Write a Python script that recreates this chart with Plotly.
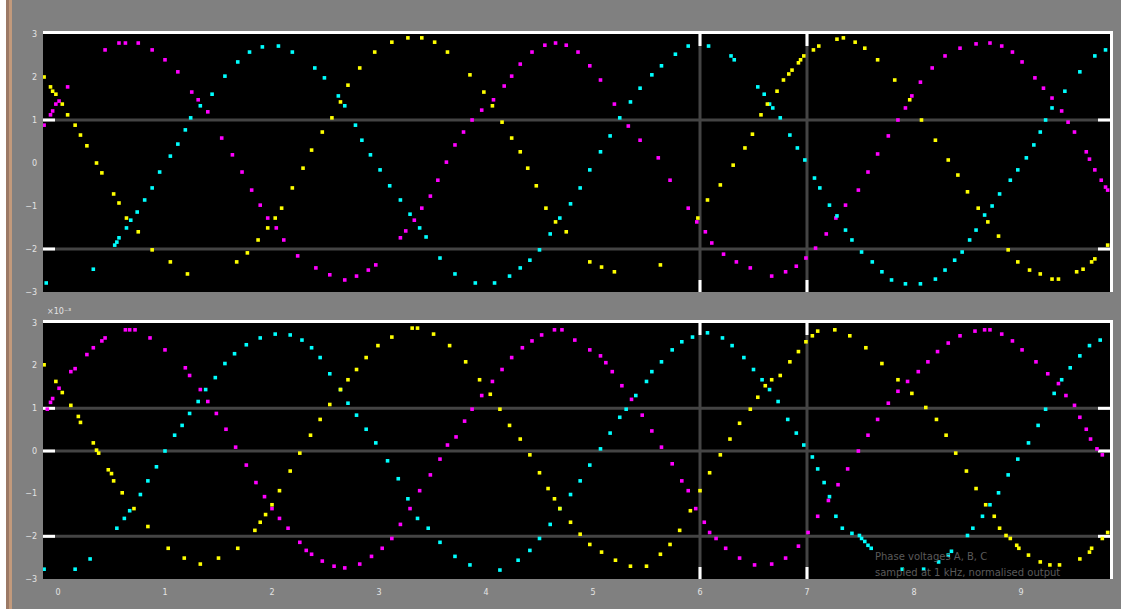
import plotly.graph_objects as go

# ---------------- data (x in tick units, y in axis units) ----------------
top_yellow_x = [-0.13,-0.07,-0.05,-0.02,0.04,0.09,0.16,0.21,0.27,0.36,0.41,0.52,0.57,0.64,0.75,0.88,1.05,1.21,
                1.67,1.77,1.87,1.96,2.03,2.09,2.19,2.29,2.37,2.47,2.56,2.64,2.71,2.82,2.96,3.12,3.27,3.40,3.52,3.64,
                3.85,3.98,4.06,4.15,4.24,4.32,4.39,4.47,4.56,4.65,4.75,4.97,5.08,5.20,5.63,
                5.98,6.07,6.19,6.31,6.42,6.49,6.57,6.63,6.72,6.78,6.83,6.86,6.92,6.94,6.97,7.06,7.11,7.28,7.34,
                7.45,7.54,7.66,7.82,7.96,8.07,8.20,8.32,8.41,8.50,8.60,8.69,8.79,8.88,8.97,9.08,9.18,9.29,9.35,
                9.52,9.58,9.66,9.69,9.81]
top_yellow_y = [2.00,1.77,1.67,1.60,1.37,1.12,0.88,0.65,0.40,0.00,-0.23,-0.72,-0.93,-1.28,-1.60,-2.02,-2.30,-2.58,
                -2.30,-2.09,-1.79,-1.51,-1.28,-1.05,-0.58,-0.12,0.30,0.72,1.05,1.42,1.81,2.21,2.58,2.81,2.91,2.91,2.81,2.58,
                2.05,1.65,1.33,0.95,0.58,0.26,-0.12,-0.53,-1.05,-1.37,-1.60,-2.30,-2.42,-2.53,-2.37,
                -1.28,-0.86,-0.51,-0.05,0.35,0.67,1.12,1.37,1.67,1.93,2.07,2.16,2.33,2.40,2.49,2.63,2.72,2.88,2.91,
                2.81,2.67,2.40,1.93,1.47,1.00,0.53,0.07,-0.28,-0.67,-1.05,-1.37,-1.70,-2.02,-2.30,-2.49,-2.58,-2.70,-2.70,
                -2.53,-2.47,-2.30,-2.23,-1.91]

top_magenta_x = [-0.13,-0.07,-0.05,-0.02,0.01,0.09,0.44,0.57,0.63,0.75,0.88,1.00,1.12,1.25,1.31,1.40,1.53,1.63,1.72,
                 1.81,1.89,1.96,2.04,2.11,2.24,2.41,2.54,2.68,2.79,2.90,2.97,3.20,3.25,3.33,3.40,3.48,3.55,3.63,3.71,
                 3.79,3.87,3.96,4.07,4.17,4.24,4.32,4.43,4.55,4.65,4.75,4.86,4.97,5.07,5.20,5.33,5.44,5.61,5.72,5.89,
                 5.97,6.05,6.11,6.22,6.34,6.47,6.67,6.80,6.90,6.99,7.08,7.18,7.27,7.36,7.48,7.57,7.66,7.76,7.85,7.92,
                 7.98,8.06,8.17,8.29,8.43,8.58,8.71,8.82,8.92,9.01,9.13,9.21,9.29,9.38,9.44,9.50,9.61,9.64,9.69,9.75,
                 9.79,9.81]
top_magenta_y = [0.88,1.12,1.21,1.37,1.44,1.77,2.63,2.79,2.79,2.79,2.63,2.40,2.12,1.65,1.47,1.19,0.58,0.19,-0.21,
                 -0.63,-0.98,-1.28,-1.51,-1.79,-2.16,-2.44,-2.60,-2.72,-2.63,-2.49,-2.37,-1.74,-1.58,-1.33,-1.05,-0.77,-0.40,0.02,0.42,
                 0.72,1.00,1.23,1.47,1.79,2.02,2.30,2.58,2.74,2.79,2.74,2.58,2.26,1.93,1.37,0.86,0.53,0.12,-0.40,-1.05,
                 -1.37,-1.60,-1.86,-2.12,-2.30,-2.44,-2.63,-2.53,-2.40,-2.21,-1.98,-1.65,-1.28,-0.98,-0.63,-0.21,0.21,0.63,1.00,1.28,
                 1.56,1.88,2.21,2.49,2.67,2.77,2.79,2.72,2.58,2.35,1.98,1.74,1.51,1.21,0.95,0.72,0.26,0.09,-0.16,-0.40,
                 -0.56,-0.63]

top_cyan_x = [-0.11,0.33,0.53,0.55,0.57,0.64,0.68,0.74,0.81,0.88,0.95,1.05,1.12,1.19,1.24,1.33,1.44,1.56,1.68,1.79,
              1.91,2.06,2.19,2.40,2.49,2.62,2.68,2.78,2.84,2.92,3.01,3.10,3.20,3.29,3.38,3.44,3.57,3.71,3.90,4.08,
              4.22,4.32,4.41,4.50,4.60,4.69,4.79,4.88,4.97,5.07,5.16,5.25,5.35,5.44,5.55,5.64,5.77,5.89,6.08,6.29,
              6.32,6.54,6.60,6.65,6.68,6.75,6.84,6.91,6.98,7.07,7.12,7.21,7.28,7.36,7.42,7.51,7.61,7.70,7.79,7.92,
              8.06,8.20,8.29,8.38,8.45,8.52,8.58,8.66,8.73,8.80,8.90,8.97,9.05,9.12,9.18,9.23,9.29,9.41,9.55,9.69,9.79]
top_cyan_y = [-2.79,-2.47,-1.91,-1.84,-1.74,-1.51,-1.33,-1.14,-0.86,-0.58,-0.21,0.16,0.44,0.77,1.05,1.33,1.60,2.02,2.35,2.58,
              2.70,2.72,2.58,2.21,1.98,1.56,1.33,0.88,0.53,0.19,-0.16,-0.53,-0.86,-1.19,-1.51,-1.72,-2.21,-2.58,-2.79,-2.79,
              -2.63,-2.44,-2.26,-2.02,-1.65,-1.28,-0.95,-0.58,-0.16,0.26,0.63,1.05,1.42,1.74,2.05,2.26,2.53,2.72,2.72,2.49,
              2.40,1.77,1.60,1.37,1.28,1.05,0.65,0.35,0.07,-0.35,-0.58,-0.98,-1.23,-1.56,-1.79,-2.07,-2.30,-2.53,-2.72,-2.81,
              -2.81,-2.70,-2.49,-2.26,-2.07,-1.79,-1.56,-1.21,-1.00,-0.72,-0.40,-0.16,0.12,0.42,0.72,1.00,1.28,1.67,2.12,2.49,2.63]

bot_magenta_x = [-0.10,-0.07,-0.05,0.01,0.12,0.16,0.27,0.33,0.41,0.44,0.63,0.67,0.72,0.86,1.00,1.19,1.23,1.33,1.40,
                 1.48,1.57,1.66,1.76,1.85,1.93,2.00,2.07,2.15,2.26,2.32,2.37,2.47,2.58,2.68,2.82,2.93,3.03,3.12,3.20,
                 3.29,3.38,3.48,3.57,3.64,3.72,3.80,3.87,3.96,4.06,4.15,4.24,4.34,4.43,4.52,4.64,4.71,4.83,4.97,5.07,
                 5.12,5.18,5.27,5.36,5.46,5.55,5.64,5.74,5.83,5.89,5.96,6.04,6.09,6.15,6.24,6.37,6.51,6.67,6.80,6.92,
                 7.01,7.10,7.20,7.29,7.38,7.48,7.57,7.66,7.76,7.85,7.94,8.04,8.13,8.22,8.32,8.43,8.57,8.66,8.71,8.82,
                 8.92,9.01,9.14,9.25,9.35,9.42,9.50,9.55,9.61,9.65,9.71,9.76]
bot_magenta_y = [0.98,1.14,1.23,1.47,1.86,1.93,2.26,2.42,2.58,2.65,2.84,2.84,2.84,2.65,2.37,1.95,1.77,1.44,1.16,
                 0.88,0.51,0.09,-0.33,-0.74,-1.07,-1.35,-1.58,-1.81,-2.14,-2.33,-2.42,-2.58,-2.70,-2.74,-2.65,-2.47,-2.28,-2.05,-1.72,
                 -1.35,-0.93,-0.56,-0.19,0.14,0.33,0.70,0.98,1.30,1.63,1.91,2.19,2.42,2.58,2.72,2.84,2.84,2.60,2.37,2.23,
                 2.07,1.86,1.53,1.21,0.84,0.47,0.09,-0.30,-0.70,-0.93,-1.35,-1.67,-1.91,-2.05,-2.28,-2.51,-2.67,-2.65,-2.51,-2.23,
                 -1.91,-1.53,-1.16,-0.79,-0.42,0.00,0.37,0.74,1.12,1.40,1.63,1.86,2.09,2.33,2.53,2.70,2.81,2.84,2.84,2.74,
                 2.58,2.37,2.09,1.81,1.58,1.30,1.07,0.79,0.51,0.28,0.05,-0.09]

bot_yellow_x = [-0.13,-0.02,0.04,0.12,0.19,0.21,0.33,0.36,0.38,0.47,0.50,0.52,0.60,0.71,0.84,1.03,1.18,1.33,1.50,
                1.68,1.84,1.89,1.94,2.00,2.07,2.17,2.26,2.36,2.45,2.54,2.64,2.71,2.79,2.88,2.99,3.12,3.31,3.36,3.51,
                3.66,3.81,3.94,4.04,4.13,4.22,4.32,4.41,4.50,4.58,4.64,4.69,4.79,4.88,4.97,5.08,5.21,5.35,5.50,5.63,
                5.72,5.81,5.91,6.00,6.09,6.19,6.28,6.37,6.47,6.54,6.61,6.67,6.75,6.84,6.92,6.99,7.05,7.10,7.26,7.40,
                7.55,7.70,7.85,7.98,8.11,8.21,8.30,8.39,8.49,8.58,8.67,8.75,8.80,8.86,8.90,8.96,8.98,9.07,9.18,9.27,
                9.36,9.55,9.64,9.66,9.76,9.81]
bot_yellow_y = [2.02,1.63,1.37,1.07,0.81,0.67,0.19,0.02,-0.05,-0.44,-0.53,-0.70,-0.98,-1.35,-1.77,-2.28,-2.51,-2.65,-2.51,
                -2.28,-1.86,-1.67,-1.49,-1.26,-0.93,-0.47,-0.05,0.37,0.74,1.09,1.44,1.67,1.91,2.19,2.47,2.67,2.88,2.88,2.74,
                2.47,2.09,1.67,1.33,0.98,0.60,0.28,-0.09,-0.51,-0.88,-1.12,-1.35,-1.67,-1.95,-2.19,-2.37,-2.56,-2.70,-2.70,-2.42,
                -2.19,-1.86,-1.40,-0.93,-0.51,-0.09,0.28,0.65,0.98,1.26,1.53,1.67,1.77,2.09,2.33,2.56,2.70,2.81,2.84,2.70,
                2.42,2.05,1.67,1.35,1.02,0.74,0.37,-0.05,-0.47,-0.88,-1.26,-1.53,-1.81,-1.98,-2.05,-2.21,-2.28,-2.44,-2.60,-2.67,
                -2.67,-2.53,-2.37,-2.28,-2.05,-1.91]

bot_cyan_x = [-0.13,0.16,0.30,0.55,0.62,0.67,0.77,0.84,0.92,1.00,1.09,1.16,1.23,1.31,1.38,1.47,1.56,1.65,1.76,1.89,
              2.03,2.17,2.28,2.37,2.45,2.54,2.64,2.71,2.79,2.88,2.97,3.08,3.18,3.27,3.36,3.46,3.57,3.71,3.85,4.13,
              4.30,4.41,4.50,4.60,4.69,4.79,4.88,4.97,5.07,5.16,5.25,5.31,5.40,5.50,5.55,5.64,5.74,5.83,5.93,6.07,
              6.21,6.30,6.41,6.50,6.58,6.65,6.73,6.82,6.90,6.97,7.05,7.10,7.16,7.21,7.27,7.33,7.42,7.49,7.51,7.54,
              7.57,7.60,7.89,8.09,8.23,8.32,8.35,8.50,8.55,8.64,8.71,8.79,8.88,8.97,9.07,9.16,9.23,9.31,9.38,9.46,
              9.55,9.64,9.74]
bot_cyan_y = [-2.77,-2.77,-2.53,-1.81,-1.58,-1.40,-1.02,-0.70,-0.37,0.00,0.37,0.60,0.88,1.16,1.44,1.72,2.05,2.28,2.49,2.65,
              2.74,2.72,2.60,2.42,2.19,1.81,1.44,1.12,0.84,0.51,0.19,-0.23,-0.65,-1.12,-1.58,-1.81,-2.14,-2.47,-2.67,-2.79,
              -2.56,-2.33,-2.05,-1.72,-1.35,-1.02,-0.70,-0.33,0.05,0.42,0.79,0.98,1.30,1.63,1.86,2.09,2.37,2.56,2.67,2.77,
              2.65,2.47,2.19,1.91,1.67,1.44,1.16,0.74,0.42,0.14,-0.14,-0.42,-0.74,-1.07,-1.53,-1.81,-1.93,-1.98,-2.05,-2.12,
              -2.21,-2.28,-2.77,-2.77,-2.60,-2.44,-2.35,-1.98,-1.81,-1.53,-1.26,-0.98,-0.56,-0.19,0.19,0.60,0.98,1.35,1.67,1.95,
              2.23,2.47,2.60]

x_ticks = [0, 1, 2, 3, 4, 5, 6, 7, 8, 9]
y_ticks = [-3, -2, -1, 0, 1, 2, 3]
top_grid_y = [1, -2]
bot_grid_y = [1, 0, -2]
grid_x = [6, 7]

YELLOW, MAGENTA, CYAN = "#ffff00", "#ff00ff", "#00ffff"

# ---------------- figure ----------------
W, H = 1121, 609
L, R, T, B = 43, 11, 34, 30
PW, PH = W - L - R, H - T - B


def px(xp):
    return (xp - L) / PW


def py(yp):
    return (H - B - yp) / PH


fig = go.Figure()


def add_series(xs, ys, color, xa, ya):
    fig.add_trace(go.Scatter(x=xs, y=ys, mode="markers", xaxis=xa, yaxis=ya,
                             marker=dict(symbol="square", size=3.6, color=color, line=dict(width=0)),
                             hoverinfo="skip"))


for xs, ys, c in [(top_magenta_x, top_magenta_y, MAGENTA), (top_cyan_x, top_cyan_y, CYAN),
                  (top_yellow_x, top_yellow_y, YELLOW)]:
    add_series(xs, ys, c, "x", "y")
for xs, ys, c in [(bot_magenta_x, bot_magenta_y, MAGENTA), (bot_cyan_x, bot_cyan_y, CYAN),
                  (bot_yellow_x, bot_yellow_y, YELLOW)]:
    add_series(xs, ys, c, "x2", "y2")

xr = [(L - 58) / 107, (W - R - 58) / 107]
top_dom = [py(292), 1]
bot_dom = [0, py(323)]

tickfont = dict(family="DejaVu Sans", size=8, color="#e4e4e4")
common_x = dict(range=xr, showgrid=False, zeroline=False, showline=False, automargin=False,
                tickvals=x_ticks, tickfont=tickfont, ticks="")
common_y = dict(range=[-3, 3], showgrid=False, zeroline=False, showline=False, automargin=False,
                tickvals=y_ticks, tickfont=tickfont, ticks="", ticklabelstandoff=5)

fig.update_layout(
    template="none", width=W, height=H, showlegend=False,
    margin=dict(l=L, r=R, t=T, b=B, pad=0),
    paper_bgcolor="#808080", plot_bgcolor="#000000",
    xaxis=dict(domain=[0, 1], anchor="y", showticklabels=False, **common_x),
    yaxis=dict(domain=top_dom, anchor="x", **common_y),
    xaxis2=dict(domain=[0, 1], anchor="y2", showticklabels=True, ticklabelstandoff=7, **common_x),
    yaxis2=dict(domain=bot_dom, anchor="x2", **common_y),
)

GRID = "#444444"
TL = 12
shapes = []
# horizontal grid lines with white end ticks
for (xr_, yr_, vals, hpx) in [("x domain", "y", top_grid_y, 258), ("x2 domain", "y2", bot_grid_y, 256)]:
    for v in vals:
        shapes.append(dict(type="line", xref=xr_, yref=yr_, x0=0, x1=1, y0=v, y1=v,
                           line=dict(color=GRID, width=3), layer="below"))
        shapes.append(dict(type="line", xref=xr_, yref=yr_, x0=0, x1=TL / PW, y0=v, y1=v,
                           line=dict(color="white", width=3), layer="below"))
        shapes.append(dict(type="line", xref=xr_, yref=yr_, x0=1 - TL / PW, x1=1, y0=v, y1=v,
                           line=dict(color="white", width=3), layer="below"))
    xname = xr_.split(" ")[0]
    yname = yr_
    for gx in grid_x:
        shapes.append(dict(type="line", xref=xname, yref=yname + " domain", x0=gx, x1=gx, y0=0, y1=1,
                           line=dict(color=GRID, width=3), layer="below"))
        shapes.append(dict(type="line", xref=xname, yref=yname + " domain", x0=gx, x1=gx, y0=0, y1=TL / hpx,
                           line=dict(color="white", width=3), layer="below"))
        shapes.append(dict(type="line", xref=xname, yref=yname + " domain", x0=gx, x1=gx, y0=1 - TL / hpx, y1=1,
                           line=dict(color="white", width=3), layer="below"))

# white frame lines (top and right) for each panel
for top_px, bot_px in [(34, 292), (323, 579)]:
    shapes.append(dict(type="rect", xref="paper", yref="paper", x0=px(43), x1=px(1113),
                       y0=py(top_px), y1=py(top_px - 3), fillcolor="white", line=dict(width=0)))
    shapes.append(dict(type="rect", xref="paper", yref="paper", x0=px(1110), x1=px(1113),
                       y0=py(bot_px), y1=py(top_px - 3), fillcolor="white", line=dict(width=0)))

# left window edge strips
shapes.append(dict(type="rect", xref="paper", yref="paper", x0=px(0), x1=px(6), y0=py(H), y1=py(0),
                   fillcolor="#ffffff", line=dict(width=0)))
shapes.append(dict(type="rect", xref="paper", yref="paper", x0=px(6), x1=px(9), y0=py(H), y1=py(0),
                   fillcolor="#9c7a66", line=dict(width=0)))
shapes.append(dict(type="rect", xref="paper", yref="paper", x0=px(9), x1=px(12), y0=py(H), y1=py(0),
                   fillcolor="#c29a7c", line=dict(width=0)))
fig.update_layout(shapes=shapes)

fig.add_annotation(text="×10⁻³", xref="paper", yref="paper", x=px(45), y=py(312), xanchor="left",
                   yanchor="middle", showarrow=False, font=dict(family="DejaVu Sans", size=8, color="#e4e4e4"))
fig.add_annotation(text="Phase voltages A, B, C", xref="paper", yref="paper", x=px(873), y=py(556),
                   xanchor="left", yanchor="middle", showarrow=False,
                   font=dict(family="DejaVu Sans", size=10, color="#5a5a5a"))
fig.add_annotation(text="sampled at 1 kHz, normalised output", xref="paper", yref="paper", x=px(873),
                   y=py(572), xanchor="left", yanchor="middle", showarrow=False,
                   font=dict(family="DejaVu Sans", size=10, color="#5a5a5a"))

fig.write_html("out.html", config={"displayModeBar": False},
               post_script="document.body.style.margin='0';document.body.style.overflow='hidden';")
